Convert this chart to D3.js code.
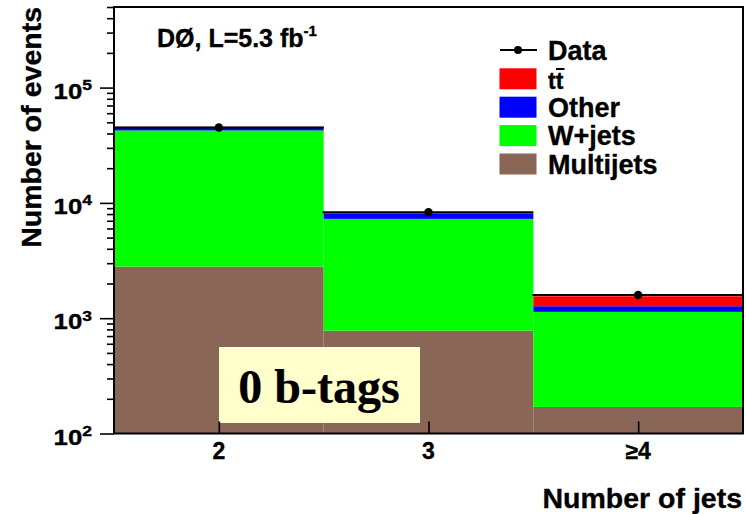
<!DOCTYPE html>
<html>
<head>
<meta charset="utf-8">
<script src="https://cdn.jsdelivr.net/npm/d3@7"></script>
<style>
  html, body { margin: 0; padding: 0; background: #fff; }
  svg { display: block; }
  text { font-family: "Liberation Sans", Arial, Helvetica, sans-serif; font-weight: bold; fill: #000; stroke: #000; stroke-width: 0.35px; }
</style>
</head>
<body>
<svg id="chart" width="746" height="514"></svg>
<script>
// Jet multiplicity bins (x positions) and their labels
const jetBins = [2, 3, 4];
const jetLabels = ["2", "3", "\u22654"];

// Event yields per jet bin, stacked bottom to top
const multijets = [2800, 780, 170];
const wjets     = [39700, 6490, 965];
const other     = [3000, 770, 135];
const ttbar     = [200, 250, 280];
// Observed data
const data      = [45100, 8300, 1590];

// Y-axis decades (major ticks) and legend entries
const yDecades = [2, 3, 4, 5];
const seriesNames  = ["Multijets", "W+jets", "Other", "ttbar"];
const seriesColors = ["#8a6657", "#00ff00", "#0000ff", "#ff0000"];

const svg = d3.select("#chart");
const plot = { left: 114, right: 743, top: 7, bottom: 433.5 };

const x = d3.scaleLinear().domain([1.5, 4.5]).range([plot.left, plot.right]);
const y = d3.scaleLog().domain([100, 5e5]).range([plot.bottom, plot.top]);

// Build stacked layers
const rows = jetBins.map((b, i) => ({
  bin: b, Multijets: multijets[i], "W+jets": wjets[i], Other: other[i], ttbar: ttbar[i]
}));
const stack = d3.stack().keys(seriesNames)(rows);

const gStack = svg.append("g");
stack.forEach((layer, li) => {
  gStack.selectAll(null)
    .data(layer)
    .join("rect")
    .attr("x", d => x(d.data.bin - 0.5))
    .attr("width", d => x(d.data.bin + 0.5) - x(d.data.bin - 0.5))
    .attr("y", d => y(d[1]))
    .attr("height", d => y(Math.max(d[0], 100)) - y(d[1]))
    .attr("fill", seriesColors[li]);
});

// Data: horizontal bin-width bars with markers
const gData = svg.append("g");
gData.selectAll("line")
  .data(data)
  .join("line")
  .attr("x1", (d, i) => x(jetBins[i] - 0.5) - 1)
  .attr("x2", (d, i) => x(jetBins[i] + 0.5))
  .attr("y1", d => y(d))
  .attr("y2", d => y(d))
  .attr("stroke", "#000")
  .attr("stroke-width", 2);
gData.selectAll("line.err")
  .data(data)
  .join("line")
  .attr("class", "err")
  .attr("x1", (d, i) => x(jetBins[i]))
  .attr("x2", (d, i) => x(jetBins[i]))
  .attr("y1", d => y(d + Math.sqrt(d)))
  .attr("y2", d => y(d - Math.sqrt(d)))
  .attr("stroke", "#000")
  .attr("stroke-width", 2);
gData.selectAll("circle")
  .data(data)
  .join("circle")
  .attr("cx", (d, i) => x(jetBins[i]))
  .attr("cy", d => y(d))
  .attr("r", 4.2)
  .attr("fill", "#000");

// "0 b-tags" label box
const boxG = svg.append("g");
boxG.append("rect")
  .attr("x", 219).attr("y", 347).attr("width", 201).attr("height", 76)
  .attr("fill", "#ffffcc");
boxG.append("text")
  .attr("x", 319).attr("y", 403)
  .attr("text-anchor", "middle")
  .style("font-family", "'Liberation Serif', 'Times New Roman', serif")
  .style("font-size", "48px")
  .style("stroke-width", "0.2px")
  .text("0 b-tags");

// Y axis: minor ticks
const minorVals = [];
for (let e = 2; e <= 5; e++) {
  for (let m = 2; m <= 9; m++) {
    const v = m * Math.pow(10, e);
    if (v <= 5e5) minorVals.push(v);
  }
}
const yMinor = svg.append("g")
  .attr("transform", `translate(${plot.left},0)`)
  .call(d3.axisLeft(y).tickValues(minorVals).tickSize(7).tickFormat(""));
const yMajor = svg.append("g")
  .attr("transform", `translate(${plot.left},0)`)
  .call(d3.axisLeft(y).tickValues(yDecades.map(e => Math.pow(10, e))).tickSize(14).tickFormat(""));
[yMinor, yMajor].forEach(g => {
  g.select(".domain").remove();
  g.selectAll("line").attr("stroke", "#000").attr("stroke-width", 1.6);
});

// Y tick labels 10^n
yDecades.forEach(e => {
  const ty = y(Math.pow(10, e));
  const t = svg.append("text")
    .attr("text-anchor", "end")
    .attr("transform", `translate(92,${ty + 11}) scale(1.17,1)`);
  t.append("tspan").style("font-size", "22px").text("10");
  t.append("tspan").style("font-size", "15px").attr("dy", -8.5).text(e);
});

// X axis: ticks pointing inward
const xAxis = svg.append("g")
  .attr("transform", `translate(0,${plot.bottom})`)
  .call(d3.axisTop(x).tickValues(jetBins).tickSize(12).tickFormat(""));
xAxis.select(".domain").remove();
xAxis.selectAll("line").attr("stroke", "#000").attr("stroke-width", 1.6);

svg.selectAll("text.xlab")
  .data(jetBins)
  .join("text")
  .attr("class", "xlab")
  .attr("x", d => x(d))
  .attr("y", 459)
  .attr("text-anchor", "middle")
  .style("font-size", "23px")
  .text((d, i) => jetLabels[i]);

// Frame
svg.append("rect")
  .attr("x", plot.left).attr("y", plot.top)
  .attr("width", plot.right - plot.left).attr("height", plot.bottom - plot.top)
  .attr("fill", "none").attr("stroke", "#000").attr("stroke-width", 2);

// Axis titles
svg.append("text")
  .attr("x", 742).attr("y", 508)
  .attr("text-anchor", "end")
  .style("font-size", "28.5px")
  .text("Number of jets");
svg.append("text")
  .attr("transform", "translate(41,7) rotate(-90)")
  .attr("text-anchor", "end")
  .style("font-size", "28.5px")
  .text("Number of events");

// Luminosity label
const lum = svg.append("text").attr("x", 157).attr("y", 46.5).style("font-size", "25px");
lum.append("tspan").text("D\u00d8, L=5.3 fb");
lum.append("tspan").style("font-size", "15px").attr("dy", -11).text("-1");

// Legend
const leg = svg.append("g");
leg.append("line").attr("x1", 500).attr("x2", 537).attr("y1", 50).attr("y2", 50)
  .attr("stroke", "#000").attr("stroke-width", 2);
leg.append("circle").attr("cx", 518).attr("cy", 50).attr("r", 4).attr("fill", "#000");
leg.append("text").attr("x", 548).attr("y", 60).style("font-size", "27px").text("Data");

const legendOrder = [3, 2, 1, 0];
legendOrder.forEach((si, k) => {
  const top = 68.3 + k * 28.4;
  leg.append("rect").attr("x", 499.5).attr("y", top).attr("width", 37).attr("height", 21)
    .attr("fill", seriesColors[si]);
});
// t tbar entry: bar drawn over the second t
leg.append("text").attr("x", 548).attr("y", 88.5).style("font-size", "23px").text("tt");
leg.append("line").attr("x1", 556).attr("x2", 564.5).attr("y1", 69).attr("y2", 69)
  .attr("stroke", "#000").attr("stroke-width", 2);
[["Other", 1], ["W+jets", 2], ["Multijets", 3]].forEach(([lab, k]) => {
  leg.append("text").attr("x", 548).attr("y", 68.3 + k * 28.4 + 20)
    .style("font-size", "27px").text(lab);
});
</script>
</body>
</html>
